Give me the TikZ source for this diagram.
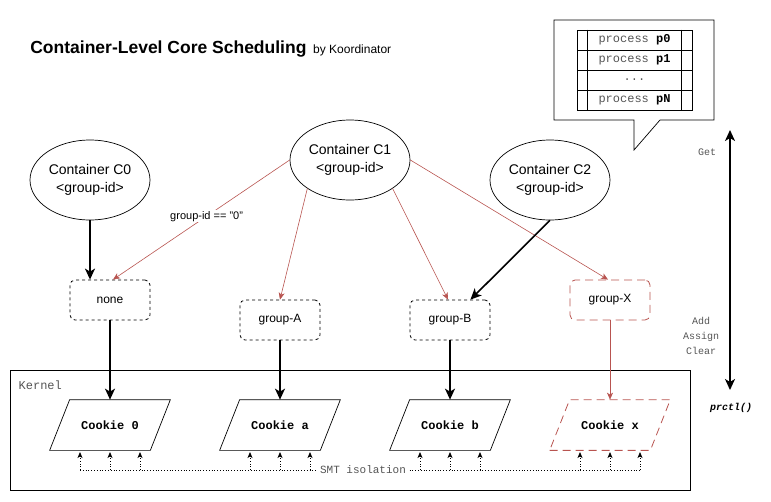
\documentclass[tikz,border=0pt]{standalone}
\usepackage{fontspec}
\setmainfont{Liberation Sans}
\setmonofont{Liberation Mono}
\usetikzlibrary{arrows.meta, positioning, shapes.geometric, calc}
\definecolor{darkred}{RGB}{184, 84, 80}
\definecolor{textgray}{RGB}{85, 85, 85}

\begin{document}
\begin{tikzpicture}[x=1pt, y=-1pt, line width=0.7pt,
  container/.style={draw, ellipse, minimum width=120pt, minimum height=80pt, inner sep=0pt,
    align=center, font=\fontsize{14}{18}\selectfont},
  groupbox/.style={draw, line width=0.8pt, dash pattern=on 3pt off 3pt, rounded corners=5pt,
    minimum width=80pt, minimum height=40pt, font=\fontsize{12}{14}\selectfont},
  cookie/.style={minimum width=100pt, minimum height=50pt, inner sep=0pt,
    font=\ttfamily\bfseries\fontsize{12}{14}\selectfont},
  proc/.style={draw, minimum width=115pt, minimum height=20pt, inner sep=0pt, text=textgray,
    font=\ttfamily\fontsize{12}{14}\selectfont},
  monolabel/.style={text=textgray, align=center, font=\ttfamily\fontsize{10}{15}\selectfont},
  mainarrow/.style={line width=1.6pt, -{Stealth[length=11pt, width=10pt, inset=3pt]}},
  redarrow/.style={darkred, line width=0.6pt, -{Stealth[length=7pt, width=6pt, inset=2pt]}},
  smtarrow/.style={dotted, line width=0.8pt, -{Stealth[length=6pt, width=5pt, inset=1.5pt]}},
  dashedred/.style={darkred, line width=0.8pt, dash pattern=on 8pt off 5pt},
]
  \useasboundingbox (0,0) rectangle (771,501);

  % title
  \node[anchor=base west, inner sep=0pt, font=\bfseries\fontsize{17.5}{20}\selectfont] (title) at (30,53)
    {Container-Level Core Scheduling};
  \node[anchor=base west, inner sep=0pt, font=\fontsize{12}{14}\selectfont] (by) at ([xshift=6pt]title.base east)
    {by Koordinator};

  % process list callout
  \draw (554,20) -- (714,20) -- (714,120) -- (660,120) -- (634,150) -- (634,120) -- (554,120) -- cycle;
  \node[proc] (p0) at (634.5,40) {process \textcolor{black}{\textbf{p0}}};
  \node[proc] (p1) at (634.5,60) {process \textcolor{black}{\textbf{p1}}};
  \node[proc] (pd) at (634.5,80) {...};
  \node[proc] (pn) at (634.5,100) {process \textcolor{black}{\textbf{pN}}};
  \draw ([xshift=11pt]p0.north west) -- ([xshift=11pt]pn.south west);
  \draw ([xshift=-11pt]p0.north east) -- ([xshift=-11pt]pn.south east);

  % containers
  \node[container] (c0) at (90,180) {Container C0\\<group-id>};
  \node[container] (c1) at (350,160) {Container C1\\<group-id>};
  \node[container] (c2) at (550,180) {Container C2\\<group-id>};

  % core sched groups
  \node[groupbox] (none) at (110,300) {none};
  \node[groupbox] (ga) at (280,320) {group-A};
  \node[groupbox] (gb) at (450,320) {group-B};
  \node[groupbox, dashedred, text=black] (gx) at (610,300) {group-X};

  % kernel
  \node[draw, minimum width=680pt, minimum height=120pt, inner sep=0pt] (kernel) at (350,430) {};
  \node[monolabel, anchor=west, font=\ttfamily\fontsize{12}{14}\selectfont] (klabel) at (15,385) {Kernel};
  \node[cookie] (k0) at (110,425) {Cookie 0};
  \node[cookie] (ka) at (280,425) {Cookie a};
  \node[cookie] (kb) at (450,425) {Cookie b};
  \node[cookie] (kx) at (610,425) {Cookie x};
  \foreach \k/\s in {k0/solid, ka/solid, kb/solid, kx/dashedred}
    \draw[\s] ($(\k.south west)+(-10,0)$) -- ($(\k.south east)+(-10,0)$)
      -- ($(\k.north east)+(10,0)$) -- ($(\k.north west)+(10,0)$) -- cycle;

  % assignments
  \draw[mainarrow] (c0.south) -- (c0.south |- none.north);
  \draw[redarrow] (c1.west) -- node[pos=0.47, fill=white, text=black, inner sep=1pt,
    font=\fontsize{11}{13}\selectfont] (gid) {group-id == "0"} ([xshift=3pt]none.north);
  \draw[redarrow] (c1.south west) -- (ga.north);
  \draw[redarrow] (c1.south east) -- ([xshift=-2pt]gb.north);
  \draw[redarrow] (c1.east) -- ([xshift=-2pt]gx.north);
  \draw[mainarrow] (c2.south) -- (gb);
  \foreach \g/\k in {none/k0, ga/ka, gb/kb}
    \draw[mainarrow] (\g) -- (\k);
  \draw[redarrow] (gx) -- (kx);

  % SMT isolation
  \node[monolabel, font=\ttfamily\fontsize{11}{13}\selectfont] (smt) at (363,470) {SMT isolation};
  \foreach \k in {k0, ka, kb, kx}
    \foreach \dx in {-30, 0, 30}
      \draw[smtarrow] ($(\k.center)+(\dx,45)$) -- ($(\k.center)+(\dx,27)$);
  \draw[dotted, line width=0.8pt] ($(k0.center)+(-30,45)$) -- (smt.west);
  \draw[dotted, line width=0.8pt] (smt.east) -- ($(kx.center)+(30,45)$);

  % prctl
  \coordinate (ptop) at (730,130);
  \coordinate (pbot) at (730,390);
  \draw[line width=1.6pt, {Stealth[length=11pt, width=10pt, inset=3pt]}-{Stealth[length=11pt, width=10pt, inset=3pt]}]
    (ptop) -- (pbot);
  \node[monolabel] (get) at (707,152) {Get};
  \node[monolabel] (ops) at (701,336) {Add\\Assign\\Clear};
  \node[font=\ttfamily\bfseries\itshape\fontsize{10}{12}\selectfont] (prctl) at (731,408) {prctl()};
\end{tikzpicture}
\end{document}
